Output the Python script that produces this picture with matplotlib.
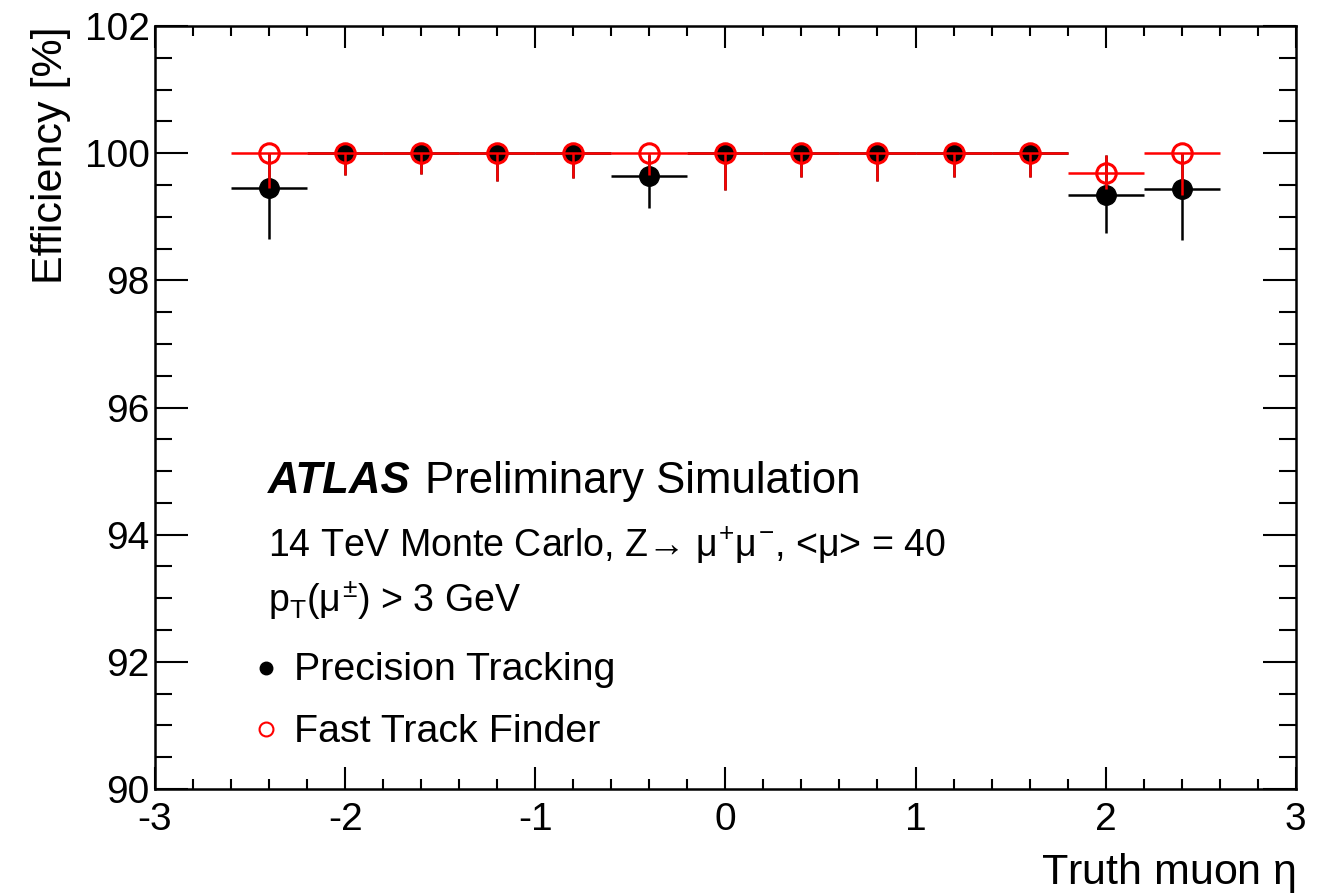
import numpy as np
import matplotlib
matplotlib.use("Agg")
from matplotlib import pyplot as plt
from matplotlib.ticker import MultipleLocator

plt.rcParams["font.family"] = ["Liberation Sans", "DejaVu Sans"]
plt.rcParams["mathtext.fontset"] = "custom"
plt.rcParams["mathtext.rm"] = "Liberation Sans"
plt.rcParams["mathtext.it"] = "Liberation Sans"
plt.rcParams["mathtext.bf"] = "Liberation Sans:bold"

# truth muon eta bin centres, half-width 0.2
eta = [-2.4, -2.0, -1.6, -1.2, -0.8, -0.4, 0.0, 0.4, 0.8, 1.2, 1.6, 2.0, 2.4]
eta_halfwidth = 0.2

# Precision Tracking
prec_eff = [99.45, 100, 100, 100, 100, 99.64, 100, 100, 100, 100, 100, 99.34, 99.44]
prec_lo = [0.80, 0.34, 0.33, 0.44, 0.39, 0.50, 0.58, 0.37, 0.44, 0.37, 0.37, 0.59, 0.80]
prec_hi = [0.55, 0.0, 0.0, 0.0, 0.0, 0.33, 0.0, 0.0, 0.0, 0.0, 0.0, 0.63, 0.56]

# Fast Track Finder
ftf_eff = [100, 100, 100, 100, 100, 100, 100, 100, 100, 100, 100, 99.69, 100]
ftf_lo = [0.55, 0.34, 0.33, 0.44, 0.39, 0.35, 0.58, 0.37, 0.44, 0.37, 0.37, 0.25, 0.66]
ftf_hi = [0.0, 0.0, 0.0, 0.0, 0.0, 0.0, 0.0, 0.0, 0.0, 0.0, 0.0, 0.28, 0.0]

xticks = [-3, -2, -1, 0, 1, 2, 3]
yticks = [90, 92, 94, 96, 98, 100, 102]

fig = plt.figure(figsize=(13.31, 8.96), dpi=100)
ax = fig.add_axes([0.1165, 0.1194, 0.857, 0.8516])

ax.errorbar(eta, prec_eff, xerr=eta_halfwidth, yerr=[prec_lo, prec_hi],
            fmt="o", color="black", ms=14, lw=1.8, capsize=0, zorder=3)
ax.errorbar(eta, ftf_eff, xerr=eta_halfwidth, yerr=[ftf_lo, ftf_hi],
            fmt="o", color="red", mfc="none", mec="red", mew=2.2, ms=14,
            lw=1.8, capsize=0, zorder=4)

ax.set_xlim(-3, 3)
ax.set_ylim(90, 102)
ax.set_xticks(xticks)
ax.set_xticklabels([str(t) for t in xticks])
ax.set_yticks(yticks)
ax.set_yticklabels([str(t) for t in yticks])
ax.xaxis.set_minor_locator(MultipleLocator(0.2))
ax.yaxis.set_minor_locator(MultipleLocator(0.5))
ax.tick_params(which="both", direction="in", top=True, right=True, width=1.5,
               labelsize=28)
ax.tick_params(axis="x", which="major", length=16, pad=9)
ax.tick_params(axis="x", which="minor", length=7)
ax.tick_params(axis="y", which="major", length=24, pad=4)
ax.tick_params(axis="y", which="minor", length=12)
for s in ax.spines.values():
    s.set_linewidth(1.8)

ax.set_xlabel(r"Truth muon $\eta$", fontsize=31, loc="right", labelpad=10)
ax.set_ylabel("Efficiency [%]", fontsize=31, loc="top", labelpad=10)

ax.text(0.099, 0.388, "ATLAS", transform=ax.transAxes, fontsize=31.5,
        fontweight="bold", fontstyle="italic")
ax.text(0.237, 0.388, "Preliminary Simulation", transform=ax.transAxes,
        fontsize=31.5)
ax.text(0.099, 0.304,
        r"14 TeV Monte Carlo, Z→ $\mu^{+}\mu^{-}$, <$\mu$> = 40",
        transform=ax.transAxes, fontsize=27)
ax.text(0.099, 0.232, r"p$_{\rm T}$($\mu^{\pm}$) > 3 GeV",
        transform=ax.transAxes, fontsize=27)

ax.plot([0.097], [0.159], "o", color="black", ms=9, transform=ax.transAxes,
        clip_on=False)
ax.text(0.122, 0.143, "Precision Tracking", transform=ax.transAxes, fontsize=28.4)
ax.plot([0.097], [0.079], "o", color="red", mfc="none", mew=1.5, ms=10,
        transform=ax.transAxes, clip_on=False)
ax.text(0.122, 0.062, "Fast Track Finder", transform=ax.transAxes, fontsize=28.4)

fig.savefig("out.png", dpi=100)
